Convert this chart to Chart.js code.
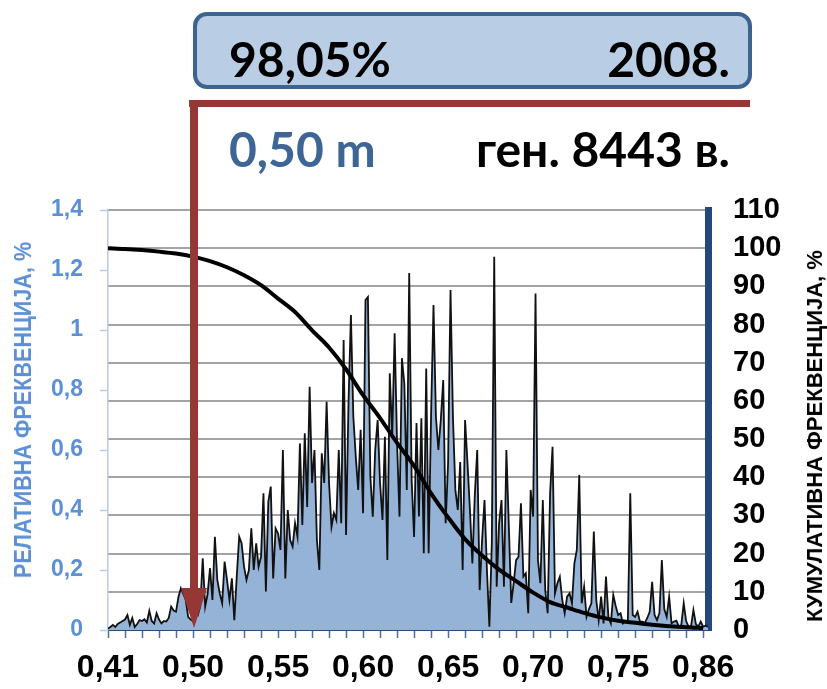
<!DOCTYPE html>
<html>
<head>
<meta charset="utf-8">
<script src="https://cdn.jsdelivr.net/npm/chart.js@4"></script>
<style>
  body { margin: 0; background: #fff; }
  #wrap { position: relative; width: 827px; height: 689px; overflow: hidden; background: #fff; }
  #c { position: absolute; left: 0; top: 0; }
  .t { position: absolute; white-space: nowrap; font-family: Lato, "Open Sans", sans-serif; font-weight: bold; font-size: 48px; line-height: 1; }
  .rot { position: absolute; white-space: nowrap; font-family: "Liberation Sans", Arial, sans-serif; font-weight: bold; }
  #box { position: absolute; left: 193px; top: 12px; width: 559px; height: 77px; box-sizing: border-box;
         border: 4px solid #3d6391; border-radius: 14px; background: #b9cde5; }
</style>
</head>
<body>
<div id="wrap">
  <canvas id="c" width="827" height="689"></canvas>
  <div id="box"></div>
  <div class="t" style="left:229px; top:35px; color:#000;">98,05%</div>
  <div class="t" style="right:97px; top:35px; color:#000;">2008.</div>
  <div class="t" style="left:229px; top:125px; color:#3d6596;">0,50 m</div>
  <div class="t" style="right:97px; top:125px; color:#000;">ген. 8443 в.</div>
  <div class="rot" style="left:23px; top:410px; font-size:24px; color:#5b8fd6; transform: translate(-50%, -50%) rotate(-90deg) scaleX(0.9);">РЕЛАТИВНА ФРЕКВЕНЦИЈА, %</div>
  <div class="rot" style="left:815px; top:436px; font-size:22px; color:#000; transform: translate(-50%, -50%) rotate(-90deg);">КУМУЛАТИВНА ФРЕКВЕНЦИЈА, %</div>
</div>
<script>
// relative frequency (%), one value per class
const relFreq = [
  0.005,0.01,0.017,0.01,0.02,0.025,0.03,0.035,0.05,0.017,
  0.04,0.01,0.02,0.033,0.03,0.036,0.025,0.064,0.03,0.022,
  0.056,0.035,0.022,0.03,0.028,0.04,0.078,0.065,0.061,0.11,
  0.139,0.12,0.1,0.044,0.035,0.03,0.06,0.05,0.08,0.239,
  0.078,0.12,0.206,0.1,0.311,0.167,0.122,0.089,0.228,0.167,
  0.1,0.172,0.033,0.178,0.311,0.289,0.211,0.167,0.2,0.339,
  0.2,0.289,0.211,0.244,0.456,0.128,0.428,0.478,0.172,0.339,
  0.322,0.267,0.6,0.172,0.4,0.3,0.278,0.356,0.311,0.622,
  0.35,0.656,0.41,0.811,0.49,0.6,0.3,0.2,0.589,0.49,
  0.761,0.49,0.344,0.39,0.367,0.6,0.356,0.967,0.317,0.756,
  1.05,0.711,0.578,0.467,0.667,0.389,1.1,1.11,0.511,0.378,
  0.6,0.7,0.489,0.367,0.644,0.233,0.856,0.644,0.989,0.622,
  0.378,0.906,0.82,0.467,1.19,0.5,0.31,0.69,0.378,0.706,
  0.256,0.872,0.256,0.717,1.083,0.711,0.6,0.7,0.833,0.356,
  0.556,1.133,0.711,0.467,0.4,0.56,0.2,0.7,0.556,0.4,
  0.222,0.45,0.6,0.133,0.3,0.433,0.2,0.011,0.289,1.244,
  0.144,0.356,0.433,0.144,0.6,0.35,0.09,0.156,0.233,0.244,
  0.422,0.178,0.189,0.056,0.467,0.378,1.122,0.233,0.156,0.433,
  0.133,0.056,0.456,0.611,0.122,0.156,0.178,0.1,0.056,0.111,
  0.122,0.089,0.222,0.267,0.517,0.089,0.144,0.044,0.07,0.089,
  0.328,0.1,0.033,0.111,0.022,0.178,0.044,0.022,0.117,0.08,
  0.05,0.056,0.022,0.03,0.028,0.456,0.05,0.044,0.061,0.028,
  0.028,0.024,0.04,0.061,0.161,0.05,0.033,0.056,0.233,0.07,
  0.044,0.111,0.022,0.028,0.031,0.011,0.017,0.089,0.03,0.011,
  0.011,0.067,0.02,0.011,0.028,0.011,0.015,0.01
];

// cumulative frequency (%), read at every 7th class (each axis tick)
const cumStep = 7;
const cumFreq = [
  100, 99.8, 99.5, 99.1, 98.6, 97.8, 96.6, 95.0, 92.9, 90.3,
  86.8, 83.3, 78.5, 74.0, 68.3, 61.5, 55.5, 49.0, 43.0, 35.8,
  29.5, 23.8, 19.5, 15.8, 12.8, 9.8, 7.3, 5.9, 4.5, 3.3,
  2.4, 1.9, 1.4, 1.0, 0.7, 0.5
];

// x labels, one every 35 classes
const xTickLabels = ['0,41', '0,50', '0,55', '0,60', '0,65', '0,70', '0,75', '0,86'];
const labelEvery = 35;
const markedClass = 35;   // 0,50 m

const RED = '#953735';

const arrowPlugin = {
  id: 'arrow',
  afterDraw(chart) {
    const ctx = chart.ctx;
    const xa = chart.scales.x.getPixelForValue(markedClass) + 1;
    const tip = chart.scales.y.getPixelForValue(0) - 2;
    const headTop = tip - 40;
    ctx.save();
    ctx.fillStyle = RED;
    ctx.fillRect(xa - 5, 100, 755 - xa, 7);
    ctx.fillRect(xa - 4, 100, 8, headTop - 100);
    ctx.beginPath();
    ctx.moveTo(xa - 13, headTop);
    ctx.lineTo(xa + 13, headTop);
    ctx.lineTo(xa, tip);
    ctx.closePath();
    ctx.fill();
    ctx.restore();
  }
};

const fmt = v => String(Math.round(v * 10) / 10).replace('.', ',');

new Chart(document.getElementById('c'), {
  type: 'line',
  data: {
    datasets: [
      {
        label: 'cum',
        data: cumFreq.map((v, k) => ({ x: k * cumStep, y: v })),
        yAxisID: 'y2',
        borderColor: '#000',
        borderWidth: 4,
        pointRadius: 0,
        cubicInterpolationMode: 'monotone',
        fill: false
      },
      {
        label: 'rel',
        data: relFreq.map((v, i) => ({ x: i, y: v })),
        yAxisID: 'y',
        borderColor: '#111',
        borderWidth: 1.8,
        pointRadius: 0,
        tension: 0,
        fill: 'origin',
        backgroundColor: '#95b3d7'
      }
    ]
  },
  options: {
    responsive: false,
    animation: false,
    devicePixelRatio: 1,
    layout: { padding: { top: 210, left: 0, right: 0, bottom: 0 } },
    plugins: { legend: { display: false }, tooltip: { enabled: false } },
    scales: {
      x: {
        type: 'linear',
        min: 0,
        max: relFreq.length - 1,
        afterFit(s) { s.height = 59; },
        grid: { drawOnChartArea: false, drawTicks: true, tickLength: 8, tickColor: '#4a6fa5', tickWidth: 1.5 },
        border: { display: true, color: '#2b4a7a', width: 2 },
        ticks: {
          stepSize: cumStep,
          autoSkip: false,
          maxRotation: 0,
          includeBounds: false,
          padding: 11,
          color: '#000',
          font: { family: 'Liberation Sans', weight: 'bold', size: 32 },
          callback: v => (v % labelEvery === 0 ? xTickLabels[v / labelEvery] : '')
        }
      },
      y: {
        position: 'left',
        min: 0,
        max: 1.4,
        afterFit(s) { s.width = 108; },
        grid: { drawOnChartArea: false, drawTicks: true, tickLength: 8, tickColor: '#b8cce4', tickWidth: 1.5 },
        border: { display: true, color: '#b8cce4', width: 1.5 },
        ticks: {
          stepSize: 0.2,
          padding: 17,
          color: '#5b8fd6',
          font: { family: 'Liberation Sans', weight: 'bold', size: 23 },
          callback: v => fmt(v)
        }
      },
      y2: {
        position: 'right',
        min: 0,
        max: 110,
        afterFit(s) { s.width = 119; },
        grid: { drawOnChartArea: true, drawTicks: false, color: '#a3a3a3', lineWidth: 2 },
        border: { display: true, color: '#25487a', width: 7 },
        ticks: {
          stepSize: 10,
          padding: 25,
          color: '#000',
          font: { family: 'Liberation Sans', weight: 'bold', size: 29 }
        }
      }
    }
  },
  plugins: [arrowPlugin]
});
</script>
</body>
</html>
